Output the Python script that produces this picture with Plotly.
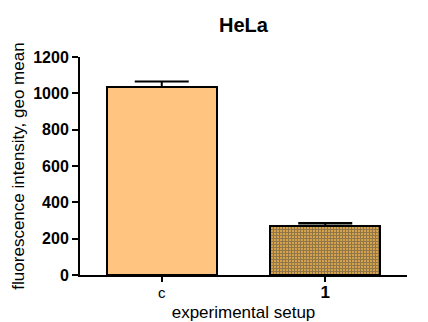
import plotly.graph_objects as go

categories = ["c", "1"]
tick_labels = ["<span style='font-size:15px'>c</span>", "<b><span style='font-size:17px'>1</span></b>"]
values = [1035, 272]
errors = [30, 14]
colors = ["#FFC480", "#DDA84E"]

fig = go.Figure()
fig.add_trace(go.Bar(
    x=[0, 1], y=values, width=0.67,
    marker=dict(
        color=colors,
        line=dict(color="black", width=2),
        pattern=dict(shape=["", "+"], size=3, solidity=0.65,
                     fgcolor="#4E3010", fillmode="overlay"),
    ),
    error_y=dict(type="data", array=errors, arrayminus=[0, 0], symmetric=False,
                 color="black", thickness=2, width=27),
))

fig.update_layout(
    width=428, height=322,
    margin=dict(l=80, r=21, t=57, b=47),
    paper_bgcolor="white", plot_bgcolor="white",
    showlegend=False,
    font=dict(family="Arial, Liberation Sans, sans-serif", color="black"),
    title=dict(text="<b>HeLa</b>", x=0.5, xref="paper", xanchor="center",
               y=1 - 25 / 322, yanchor="middle", yref="container",
               font=dict(size=20, color="black")),
    bargap=0,
)
fig.update_xaxes(
    range=[-0.5, 1.5], tickvals=[0, 1], ticktext=tick_labels,
    showline=True, linecolor="black", linewidth=2,
    ticks="outside", ticklen=5, tickwidth=2, tickcolor="black",
    tickfont=dict(size=13, color="black"),
    showgrid=False, zeroline=False, automargin=False,
    title=dict(text="experimental setup", font=dict(size=17, color="black"), standoff=8),
)
fig.update_yaxes(
    range=[0, 1200], tickvals=[0, 200, 400, 600, 800, 1000, 1200],
    ticktext=["<b>%d</b>" % v for v in [0, 200, 400, 600, 800, 1000, 1200]],
    showline=True, linecolor="black", linewidth=2,
    ticks="outside", ticklen=6, tickwidth=2, tickcolor="black",
    tickfont=dict(size=16, color="black"),
    showgrid=False, zeroline=False, automargin=False,
    title=dict(text="fluorescence intensity, geo mean", font=dict(size=17, color="black"), standoff=4),
)

fig.write_html("out.html")
